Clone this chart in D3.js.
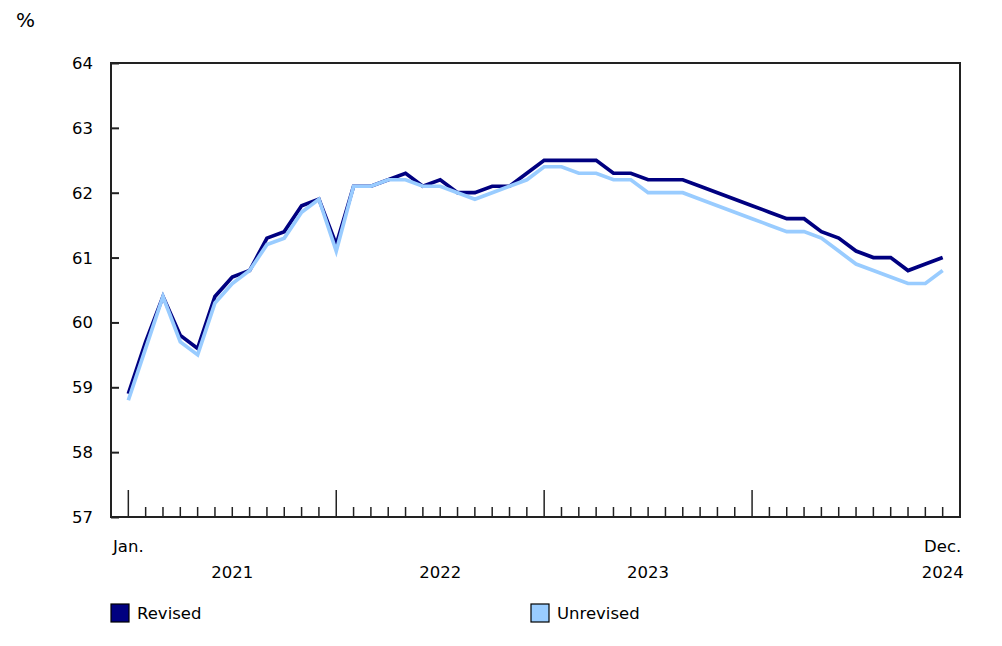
<!DOCTYPE html>
<html lang="en">
<head>
    <meta charset="UTF-8">
    <title>Revised vs unrevised, Jan. 2021 to Dec. 2024</title>
    <script src="https://d3js.org/d3.v7.min.js"></script>
    <style>
        body { margin: 0; background: #fff; }
        text { font-family: "DejaVu Sans", Verdana, sans-serif; fill: #000; }
    </style>
</head>
<body>

    <div id="chart"></div>

    <script>
        // monthly values, Jan. 2021 .. Dec. 2024 (48 months)
        const revised = [
            58.9, 59.7, 60.4, 59.8, 59.6, 60.4, 60.7, 60.8, 61.3, 61.4, 61.8, 61.9,
            61.2, 62.1, 62.1, 62.2, 62.3, 62.1, 62.2, 62.0, 62.0, 62.1, 62.1, 62.3,
            62.5, 62.5, 62.5, 62.5, 62.3, 62.3, 62.2, 62.2, 62.2, 62.1, 62.0, 61.9,
            61.8, 61.7, 61.6, 61.6, 61.4, 61.3, 61.1, 61.0, 61.0, 60.8, 60.9, 61.0
        ];
        const unrevised = [
            58.8, 59.6, 60.4, 59.7, 59.5, 60.3, 60.6, 60.8, 61.2, 61.3, 61.7, 61.9,
            61.1, 62.1, 62.1, 62.2, 62.2, 62.1, 62.1, 62.0, 61.9, 62.0, 62.1, 62.2,
            62.4, 62.4, 62.3, 62.3, 62.2, 62.2, 62.0, 62.0, 62.0, 61.9, 61.8, 61.7,
            61.6, 61.5, 61.4, 61.4, 61.3, 61.1, 60.9, 60.8, 60.7, 60.6, 60.6, 60.8
        ];
        const years = ["2021", "2022", "2023", "2024"];
        const yTicks = [57, 58, 59, 60, 61, 62, 63, 64];
        const seriesNames = ["Revised", "Unrevised"];
        const colors = ["#000080", "#99ccff"];

        const width = 1002, height = 646;
        const plotLeft = 111, plotRight = 960, plotTop = 63, plotBottom = 517;

        const svg = d3.select("#chart")
                      .append("svg")
                      .attr("width", width)
                      .attr("height", height);

        // month index -1 .. 48 fills the frame, so Jan. sits one step in
        const x = d3.scaleLinear().domain([-1, 48]).range([plotLeft, plotRight]);
        const y = d3.scaleLinear().domain([57, 64]).range([plotBottom, plotTop]);

        // y axis: inner ticks, labels drawn separately
        const yAxis = svg.append("g").attr("transform", `translate(${plotLeft},0)`)
            .call(d3.axisRight(y).tickValues(yTicks).tickSize(8).tickFormat(""));
        yAxis.select(".domain").remove();
        yAxis.selectAll("line").attr("stroke", "#222").attr("stroke-width", 2);

        svg.append("g").selectAll("text")
           .data(yTicks)
           .join("text")
           .attr("x", 93)
           .attr("y", d => y(d))
           .attr("dy", "0.36em")
           .attr("text-anchor", "end")
           .attr("font-size", "16.5px")
           .text(d => d);

        svg.append("text")
           .attr("x", 16)
           .attr("y", 27)
           .attr("font-size", "20px")
           .text("%");

        // month ticks, long at each January
        const months = d3.range(revised.length);
        svg.append("g").selectAll("line")
           .data(months)
           .join("line")
           .attr("x1", d => x(d))
           .attr("x2", d => x(d))
           .attr("y1", plotBottom)
           .attr("y2", d => d % 12 === 0 ? plotBottom - 27 : plotBottom - 10)
           .attr("stroke", "#222")
           .attr("stroke-width", 1.5);

        // frame
        svg.append("rect")
           .attr("x", plotLeft)
           .attr("y", plotTop)
           .attr("width", plotRight - plotLeft)
           .attr("height", plotBottom - plotTop)
           .attr("fill", "none")
           .attr("stroke", "#222")
           .attr("stroke-width", 2);

        svg.append("text")
           .attr("x", x(0))
           .attr("y", 552)
           .attr("text-anchor", "middle")
           .attr("font-size", "16.5px")
           .text("Jan.");
        svg.append("text")
           .attr("x", x(47))
           .attr("y", 552)
           .attr("text-anchor", "middle")
           .attr("font-size", "16.5px")
           .text("Dec.");

        svg.append("g").selectAll("text")
           .data(years)
           .join("text")
           .attr("x", (d, i) => i < years.length - 1 ? x(i * 12 + 6) : x(47))
           .attr("y", 578)
           .attr("text-anchor", "middle")
           .attr("font-size", "16.5px")
           .text(d => d);

        // lines, unrevised on top
        const line = d3.line()
                       .x((d, i) => x(i))
                       .y(d => y(d));

        [revised, unrevised].forEach((vals, k) => {
            svg.append("path")
               .datum(vals)
               .attr("d", line)
               .attr("fill", "none")
               .attr("stroke", colors[k])
               .attr("stroke-width", 3.7)
               .attr("stroke-linejoin", "miter");
        });

        // legend
        const legendX = [111, 531];
        seriesNames.forEach((name, k) => {
            svg.append("rect")
               .attr("x", legendX[k])
               .attr("y", 604)
               .attr("width", 18)
               .attr("height", 18)
               .attr("fill", colors[k])
               .attr("stroke", "#000")
               .attr("stroke-width", 1.2);
            svg.append("text")
               .attr("x", legendX[k] + 26)
               .attr("y", 619)
               .attr("font-size", "16.5px")
               .text(name);
        });
    </script>

</body>
</html>
